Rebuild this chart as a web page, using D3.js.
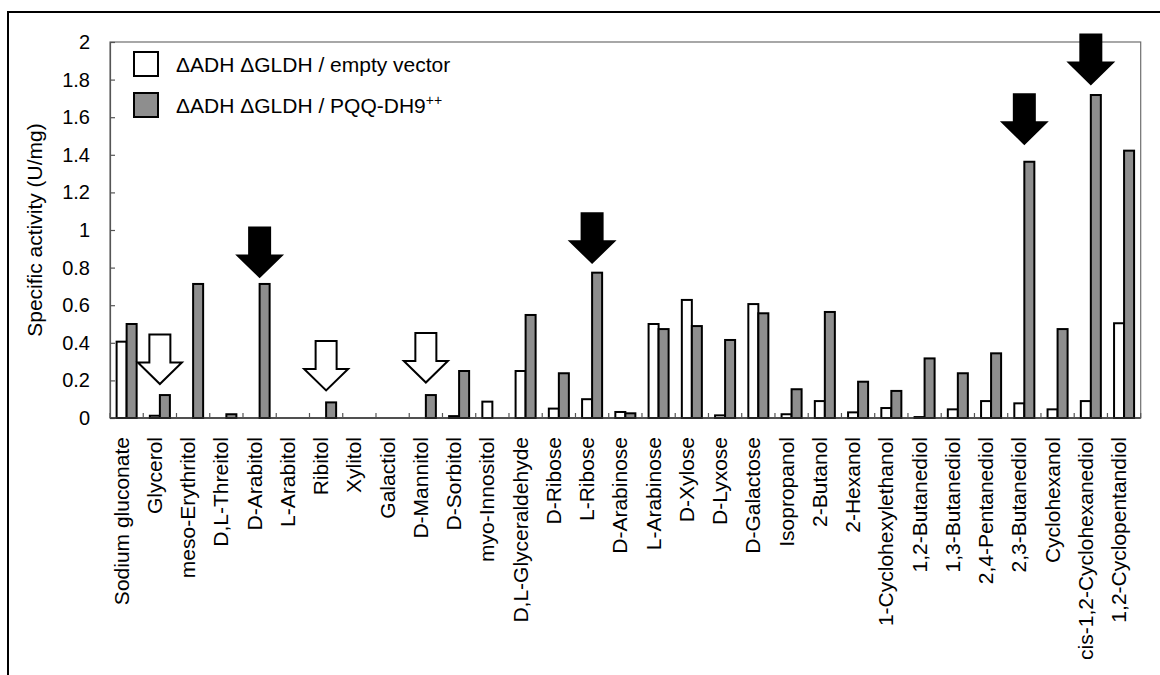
<!DOCTYPE html>
<html>
<head>
<meta charset="utf-8">
<script src="https://cdn.jsdelivr.net/npm/d3@7"></script>
<style>
  html, body { margin: 0; padding: 0; background: #fff; }
  svg { display: block; font-family: "Liberation Sans", Arial, Helvetica, sans-serif; }
</style>
</head>
<body>
<svg id="chart" width="1160" height="675"></svg>
<script>
// Substrates tested
const substrates = [
  "Sodium gluconate", "Glycerol", "meso-Erythritol", "D,L-Threitol", "D-Arabitol",
  "L-Arabitol", "Ribitol", "Xylitol", "Galactiol", "D-Mannitol", "D-Sorbitol",
  "myo-Innositol", "D,L-Glyceraldehyde", "D-Ribose", "L-Ribose", "D-Arabinose",
  "L-Arabinose", "D-Xylose", "D-Lyxose", "D-Galactose", "Isopropanol", "2-Butanol",
  "2-Hexanol", "1-Cyclohexylethanol", "1,2-Butanediol", "1,3-Butanediol",
  "2,4-Pentanediol", "2,3-Butanediol", "Cyclohexanol", "cis-1,2-Cyclohexanediol",
  "1,2-Cyclopentandiol"
];

// Specific activity (U/mg), strain with empty vector
const emptyVector = [
  0.406, 0.012, 0, 0, 0, 0, 0, 0, 0, 0, 0.01,
  0.087, 0.25, 0.05, 0.10, 0.032, 0.50, 0.628, 0.014, 0.606, 0.02, 0.09,
  0.03, 0.053, 0.005, 0.046, 0.09, 0.078, 0.046, 0.09, 0.504
];

// Specific activity (U/mg), strain overexpressing PQQ-DH9
const pqqDH9 = [
  0.50, 0.122, 0.713, 0.02, 0.713, 0, 0.083, 0, 0, 0.122, 0.25,
  0, 0.548, 0.238, 0.773, 0.025, 0.473, 0.489, 0.415, 0.557, 0.153, 0.564,
  0.193, 0.144, 0.317, 0.238, 0.344, 1.363, 0.473, 1.718, 1.422
];

const seriesKeys = ["empty", "pqq"];
const seriesFill = { empty: "#ffffff", pqq: "#8e8e8e" };

const yTicks = [0, 0.2, 0.4, 0.6, 0.8, 1, 1.2, 1.4, 1.6, 1.8, 2];

// Highlight arrows: solid = newly oxidised substrates, open = unchanged
const arrows = [
  { substrate: "Glycerol", solid: false, gap: 11 },
  { substrate: "D-Arabitol", solid: true, gap: 7 },
  { substrate: "Ribitol", solid: false, gap: 12 },
  { substrate: "D-Mannitol", solid: false, gap: 12.5 },
  { substrate: "L-Ribose", solid: true, gap: 10 },
  { substrate: "2,3-Butanediol", solid: true, gap: 18 },
  { substrate: "cis-1,2-Cyclohexanediol", solid: true, gap: 11 }
];

const svg = d3.select("#chart");
const M = { left: 110, right: 1140.7, top: 42, bottom: 418 };

const x = d3.scaleBand().domain(substrates).range([M.left, M.right]).padding(0);
const xs = d3.scaleBand().domain(seriesKeys).range([0, x.bandwidth()])
  .paddingInner(0).paddingOuter(0.66);
const y = d3.scaleLinear().domain([0, 2]).range([M.bottom, M.top]);

// Outer figure frame (left and top edges)
svg.append("path")
  .attr("d", "M8,676 L8,12 L1162,12")
  .attr("fill", "none").attr("stroke", "#000").attr("stroke-width", 2);

// Plot area box
svg.append("rect")
  .attr("x", M.left).attr("y", M.top)
  .attr("width", M.right - M.left).attr("height", M.bottom - M.top)
  .attr("fill", "none").attr("stroke", "#6e6e6e").attr("stroke-width", 1.2);

// Y axis
const yAxis = d3.axisLeft(y)
  .tickValues(yTicks)
  .tickFormat(d => String(+d.toFixed(1)))
  .tickSizeInner(-5).tickSizeOuter(0).tickPadding(20);
const gy = svg.append("g").attr("transform", `translate(${M.left},0)`).call(yAxis);
gy.select(".domain").attr("stroke", "#555").attr("stroke-width", 1.2);
gy.selectAll(".tick line").attr("stroke", "#555").attr("stroke-width", 1.2);
gy.selectAll(".tick text").attr("font-size", 20).attr("fill", "#000")
  .attr("font-family", "'Liberation Sans', Arial, sans-serif");

// Y axis title
svg.append("text")
  .attr("transform", `translate(42,${(M.top + M.bottom) / 2}) rotate(-90)`)
  .attr("text-anchor", "middle")
  .attr("font-size", 21)
  .text("Specific activity (U/mg)");

// Bars
const rows = substrates.map((s, i) => ({ substrate: s, empty: emptyVector[i], pqq: pqqDH9[i] }));
const groups = svg.append("g").selectAll("g")
  .data(rows).join("g")
  .attr("transform", d => `translate(${x(d.substrate)},0)`);
groups.selectAll("rect")
  .data(d => seriesKeys.map(k => ({ key: k, value: d[k] })).filter(e => e.value > 0))
  .join("rect")
  .attr("x", d => xs(d.key))
  .attr("width", xs.bandwidth())
  .attr("y", d => y(d.value))
  .attr("height", d => y(0) - y(d.value))
  .attr("fill", d => seriesFill[d.key])
  .attr("stroke", "#000")
  .attr("stroke-width", 2);

// Category axis: baseline with inward ticks at category boundaries
svg.append("line")
  .attr("x1", M.left).attr("x2", M.right)
  .attr("y1", y(0)).attr("y2", y(0))
  .attr("stroke", "#333").attr("stroke-width", 1.5);
const boundaries = substrates.map(s => x(s)).concat([x(substrates[substrates.length - 1]) + x.bandwidth()]);
svg.append("g").selectAll("line")
  .data(boundaries).join("line")
  .attr("x1", d => d).attr("x2", d => d)
  .attr("y1", y(0)).attr("y2", y(0) - 5)
  .attr("stroke", "#555").attr("stroke-width", 1.2);

// Category labels, rotated
svg.append("g").selectAll("text")
  .data(substrates).join("text")
  .attr("transform", d => `translate(${x(d) + x.bandwidth() / 2},${y(0) + 19}) rotate(-90)`)
  .attr("text-anchor", "end")
  .attr("dy", "0.1em")
  .attr("font-size", 21)
  .text(d => d);

// Arrows
function arrowPath(cx, tip) {
  const sw = 21, hw = 44, sl = 28, hl = 21.5;
  const hb = tip - hl, top = hb - sl;
  return `M${cx - sw / 2},${top} L${cx + sw / 2},${top} L${cx + sw / 2},${hb} ` +
    `L${cx + hw / 2},${hb} L${cx},${tip} L${cx - hw / 2},${hb} L${cx - sw / 2},${hb} Z`;
}
svg.append("g").selectAll("path")
  .data(arrows).join("path")
  .attr("d", d => {
    const i = substrates.indexOf(d.substrate);
    const top = Math.max(emptyVector[i], pqqDH9[i]);
    return arrowPath(x(d.substrate) + x.bandwidth() / 2, y(top) - d.gap);
  })
  .attr("fill", d => d.solid ? "#000" : "#fff")
  .attr("stroke", "#000")
  .attr("stroke-width", 2)
  .attr("stroke-linejoin", "miter");

// Legend
const legendItems = [
  { key: "empty", label: "ΔADH ΔGLDH / empty vector", sup: "" },
  { key: "pqq", label: "ΔADH ΔGLDH / PQQ-DH9", sup: "++" }
];
const lg = svg.append("g").selectAll("g")
  .data(legendItems).join("g")
  .attr("transform", (d, i) => `translate(134,${64 + i * 41})`);
lg.append("rect")
  .attr("x", 0).attr("y", -12).attr("width", 24).attr("height", 24)
  .attr("fill", d => seriesFill[d.key]).attr("stroke", "#000").attr("stroke-width", 2);
const lt = lg.append("text")
  .attr("x", 42).attr("y", 0).attr("dy", "0.36em")
  .attr("font-size", 21);
lt.append("tspan").text(d => d.label);
lt.append("tspan").attr("dy", "-0.55em").attr("font-size", 14).text(d => d.sup);
</script>
</body>
</html>
